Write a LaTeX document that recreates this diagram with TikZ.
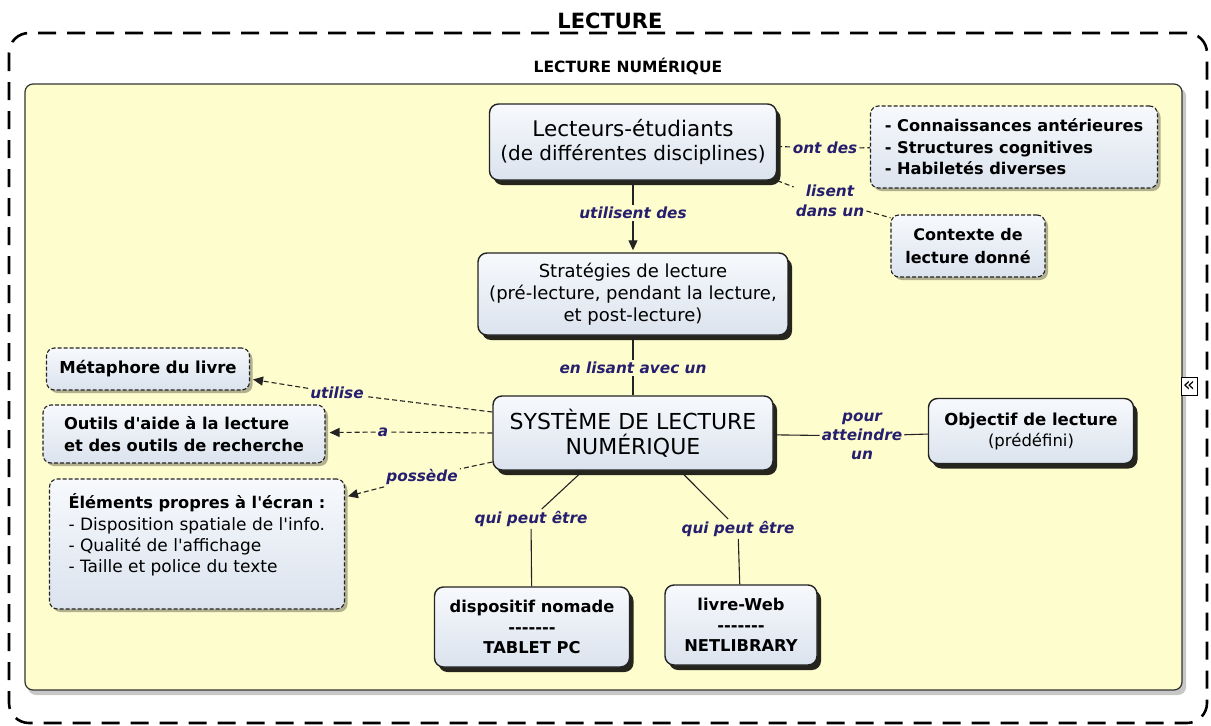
\documentclass[tikz,border=0pt]{standalone}
\usepackage{fontspec}
\setmainfont{DejaVu Sans}[Ligatures=TeXOff]
\usetikzlibrary{shadows,arrows.meta}
\definecolor{panel}{RGB}{254,253,205}
\definecolor{boxtop}{RGB}{247,249,252}
\definecolor{boxbot}{RGB}{219,227,238}
\definecolor{lblcol}{RGB}{38,30,110}
\definecolor{edgecol}{RGB}{35,35,35}
\tikzset{
  solidbox/.style={draw=edgecol, line width=1.4pt, rounded corners=9pt, top color=boxtop, bottom color=boxbot,
    drop shadow={shadow xshift=4pt, shadow yshift=-5pt, fill=black, opacity=0.85}, align=center, inner sep=2pt},
  dashbox/.style={draw=edgecol, line width=1.1pt, dash pattern=on 4pt off 2pt, rounded corners=8pt, top color=boxtop, bottom color=boxbot,
    drop shadow={shadow xshift=3pt, shadow yshift=-3pt, fill=black, opacity=0.3}, inner sep=2pt},
  lbl/.style={text=lblcol, font=\fontsize{15.3}{19}\selectfont\bfseries\itshape, inner sep=2pt, align=center},
  conn/.style={draw=edgecol, line width=1.1pt},
  dconn/.style={draw=edgecol, line width=1.1pt, dash pattern=on 5pt off 3pt},
  arr/.style={-{Triangle[length=10pt,width=9pt]}},
}
\begin{document}
\begin{tikzpicture}[x=1pt,y=-1pt]
\useasboundingbox (0,0) rectangle (1211,726);
\clip (0,0) rectangle (1211,726);
% outer dashed frame
\draw[line width=2.6pt, dash pattern=on 18pt off 11pt, rounded corners=20pt] (9,33) rectangle (1207,723);
\node[anchor=base, font=\fontsize{21}{24}\selectfont\bfseries] (title) at (610,28) {LECTURE};
% inner panel
\fill[black!22, rounded corners=8pt] (28,88) rectangle (1186,695);
\draw[fill=panel, draw=black!80, line width=1.2pt, rounded corners=8pt] (25,84) rectangle (1182,690);
\node[anchor=base, font=\fontsize{15.5}{18}\selectfont\bfseries] (subtitle) at (628,72) {LECTURE NUMÉRIQUE};
\node[draw=black, line width=1pt, fill=white, inner sep=0pt, minimum width=16pt, minimum height=18pt, font=\fontsize{20}{20}\selectfont] (icon) at (1189,386) {«};

% nodes
\node[solidbox, minimum width=287pt, minimum height=76pt, font=\fontsize{21.5}{24}\selectfont] (lect) at (633,142)
  {Lecteurs-étudiants\\{\fontsize{20}{24}\selectfont (de différentes disciplines)}};
\node[dashbox, minimum width=287pt, minimum height=82pt, align=left, font=\fontsize{16.2}{21.5}\selectfont\bfseries] (cnx) at (1014,147)
  {- Connaissances antérieures\\- Structures cognitives\\- Habiletés diverses};
\node[dashbox, minimum width=154pt, minimum height=62pt, align=center, font=\fontsize{16}{23}\selectfont\bfseries] (ctx) at (968,246)
  {Contexte de\\lecture donné};
\node[solidbox, minimum width=310pt, minimum height=82pt, font=\fontsize{18}{22}\selectfont] (strat) at (633,294)
  {Stratégies de lecture\\(pré-lecture, pendant la lecture,\\et post-lecture)};
\node[solidbox, minimum width=280pt, minimum height=74pt, font=\fontsize{22}{25}\selectfont] (sys) at (633,433)
  {SYSTÈME DE LECTURE\\NUMÉRIQUE};
\node[solidbox, minimum width=205pt, minimum height=65pt, font=\fontsize{16.5}{21}\selectfont] (obj) at (1031,431)
  {\textbf{Objectif de lecture}\\(prédéfini)};
\node[dashbox, minimum width=203pt, minimum height=42pt, font=\fontsize{16.5}{20}\selectfont\bfseries] (meta) at (148,369)
  {Métaphore du livre};
\node[dashbox, minimum width=282pt, minimum height=58pt, align=left, font=\fontsize{16.3}{22}\selectfont\bfseries] (outils) at (184,434)
  {Outils d'aide à la lecture\\et des outils de recherche};
\node[dashbox, minimum width=295pt, minimum height=130pt, align=left, font=\fontsize{17}{21.3}\selectfont] (elem) at (197,544)
  {{\fontsize{16.2}{21.3}\selectfont\bfseries Éléments propres à l'écran :}\\- Disposition spatiale de l'info.\\- Qualité de l'affichage\\- Taille et police du texte\\\mbox{}};
\node[solidbox, minimum width=195pt, minimum height=80pt, font=\fontsize{16.3}{20.5}\selectfont\bfseries] (disp) at (532,627)
  {dispositif nomade\\-------\\TABLET PC};
\node[solidbox, minimum width=152pt, minimum height=80pt, font=\fontsize{16.3}{20.5}\selectfont\bfseries] (web) at (741,625)
  {livre-Web\\-------\\NETLIBRARY};

% labels
\node[lbl] (l1) at (633,213) {utilisent des};
\node[lbl] (l2) at (825,148) {ont des};
\node[lbl, font=\fontsize{15.3}{20}\selectfont\bfseries\itshape] (l3) at (830,201) {lisent\\dans un};
\node[lbl] (l4) at (633,368) {en lisant avec un};
\node[lbl] (l5) at (337,393) {utilise};
\node[lbl] (l6) at (383,432) {a};
\node[lbl] (l7) at (422,477) {possède};
\node[lbl] (l8) at (862,436) {pour\\atteindre\\un};
\node[lbl] (l9) at (531,519) {qui peut être};
\node[lbl] (l10) at (738,529) {qui peut être};

% connectors
\draw[conn] (lect) -- (l1);
\draw[conn, arr, shorten >=2pt] (l1) -- (strat);
\draw[dconn] (lect) -- (l2);
\draw[dconn] (l2) -- (cnx);
\draw[dconn] (lect.-15) -- (l3);
\draw[dconn] ([yshift=-10pt]l3.east) -- (ctx.160);
\draw[conn] (strat) -- (l4);
\draw[conn] (l4) -- (sys);
\draw[dconn] ([yshift=21pt]sys.west) -- (l5);
\draw[dconn, arr, shorten >=3pt] (l5) -- ([yshift=-10pt]meta.east);
\draw[dconn] (sys.west) -- (l6);
\draw[dconn, arr, shorten >=4pt] (l6) -- (outils);
\draw[dconn] ([yshift=-29pt]sys.west) -- (l7);
\draw[dconn, arr, shorten >=3pt] (l7) -- ([yshift=47pt]elem.east);
\draw[conn] (sys) -- (l8);
\draw[conn] (l8) -- (obj);
\draw[conn] ([xshift=-50pt]sys.south) -- (l9);
\draw[conn] (l9) -- (disp);
\draw[conn] ([xshift=47pt]sys.south) -- (l10);
\draw[conn] (l10) -- (web);
\end{tikzpicture}
\end{document}
